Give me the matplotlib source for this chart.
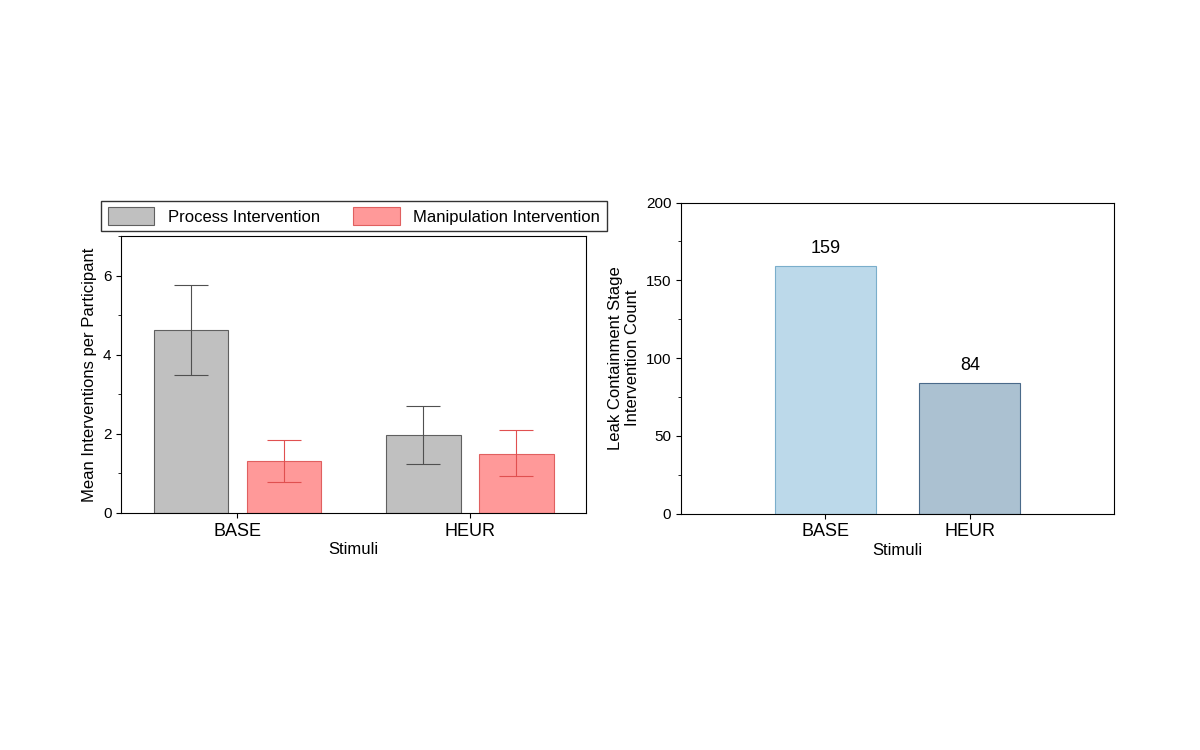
import matplotlib.pyplot as plt
from matplotlib.ticker import MultipleLocator

plt.rcParams['font.family'] = ['Liberation Sans', 'DejaVu Sans']

stimuli = ['BASE', 'HEUR']
process_mean = [4.63, 1.97]
process_lo = [3.49, 1.24]
process_hi = [5.77, 2.71]
manip_mean = [1.32, 1.49]
manip_lo = [0.78, 0.94]
manip_hi = [1.85, 2.10]
leak_counts = [159, 84]

fig = plt.figure(figsize=(12, 7.5), dpi=100)

# left panel
ax = fig.add_axes([0.101, 0.316, 0.3875, 0.369])
x = [0, 1]
xp = [i - 0.2 for i in x]
xm = [i + 0.2 for i in x]
ax.bar(xp, process_mean, 0.32, color='#c0c0c0', edgecolor='#606060', linewidth=0.8,
       label='Process Intervention')
ax.bar(xm, manip_mean, 0.32, color='#ff9999', edgecolor='#e06060', linewidth=0.8,
       label='Manipulation Intervention')
ax.errorbar(xp, process_mean,
            yerr=[[m - l for m, l in zip(process_mean, process_lo)],
                  [h - m for m, h in zip(process_mean, process_hi)]],
            fmt='none', ecolor='#505050', elinewidth=0.8, capsize=12, capthick=0.8)
ax.errorbar(xm, manip_mean,
            yerr=[[m - l for m, l in zip(manip_mean, manip_lo)],
                  [h - m for m, h in zip(manip_mean, manip_hi)]],
            fmt='none', ecolor='#e05050', elinewidth=0.8, capsize=12, capthick=0.8)
ax.set_xlim(-0.5, 1.5)
ax.set_ylim(0, 7)
ax.set_xticks(x)
ax.set_xticklabels(stimuli, fontsize=13)
ax.yaxis.set_major_locator(MultipleLocator(2))
ax.yaxis.set_minor_locator(MultipleLocator(1))
ax.tick_params(axis='y', labelsize=11)
ax.set_xlabel('Stimuli', fontsize=12, labelpad=2)
ax.set_ylabel('Mean Interventions per Participant', fontsize=12)
ax.legend(loc='lower center', bbox_to_anchor=(0.5, 1.0), ncol=2, fontsize=12,
          frameon=True, fancybox=False, edgecolor='black', borderaxespad=0.3,
          handlelength=2.8, handleheight=1.2)

# right panel
ax2 = fig.add_axes([0.5675, 0.315, 0.361, 0.415])
xr = [1, 2]
bars = ax2.bar(xr, leak_counts, 0.7, color=['#bcd9ea', '#abc1d1'],
               edgecolor=['#7aaecb', '#4a6a8a'], linewidth=0.8)
for b, v in zip(bars, leak_counts):
    ax2.text(b.get_x() + b.get_width() / 2, v + 6, str(v), ha='center', va='bottom', fontsize=13)
ax2.set_xlim(0, 3)
ax2.set_ylim(0, 200)
ax2.set_xticks(xr)
ax2.set_xticklabels(stimuli, fontsize=13)
ax2.yaxis.set_major_locator(MultipleLocator(50))
ax2.yaxis.set_minor_locator(MultipleLocator(25))
ax2.tick_params(axis='y', labelsize=11)
ax2.set_xlabel('Stimuli', fontsize=12, labelpad=2)
ax2.set_ylabel('Leak Containment Stage\nIntervention Count', fontsize=12)

fig.savefig('out.png')
